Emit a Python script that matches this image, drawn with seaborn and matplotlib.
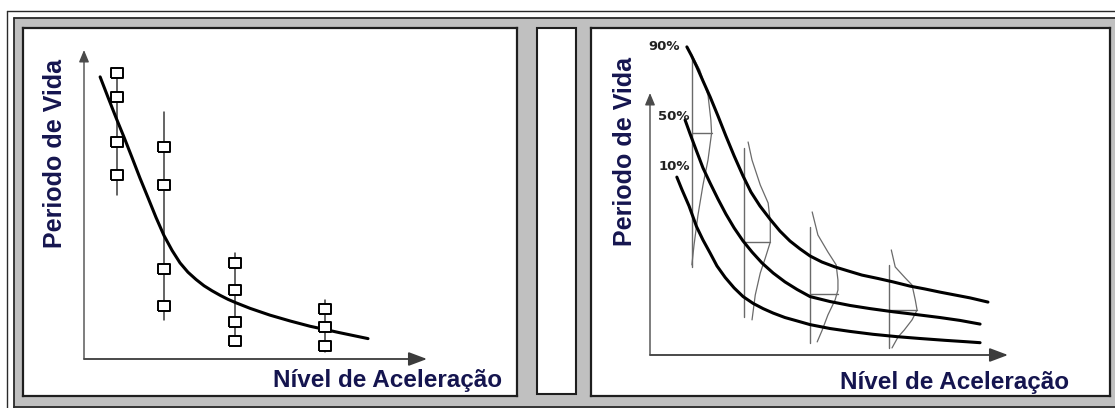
import matplotlib
matplotlib.use("Agg")
import matplotlib.pyplot as plt
from matplotlib.patches import Rectangle
from matplotlib.lines import Line2D
import pandas as pd
import seaborn as sns

# ---------------- data ----------------
# Left panel: observed lives at four acceleration levels and the fitted life curve
stress_levels = [0.95, 2.33, 4.40, 7.03]
life_obs = [
    [92.7, 84.8, 70.3, 59.5],
    [68.6, 56.3, 29.1, 17.2],
    [31.1, 22.3, 12.1, 5.8],
    [16.2, 10.4, 4.2],
]
life_range_low = [53.1, 12.6, 4.5, 2.3]
life_range_high = [94.2, 80.0, 34.3, 19.1]

fit_stress = [0.47, 0.70, 0.93, 1.17, 1.40, 1.63, 1.87, 2.10, 2.33, 2.57, 2.80, 3.03,
              3.27, 3.50, 3.73, 3.97, 4.20, 4.43, 4.84, 5.42, 6.01, 6.59, 7.46, 8.28]
fit_life = [91.3, 84.7, 78.2, 71.7, 65.2, 58.6, 52.1, 45.8, 40.0, 35.1, 31.1, 28.1,
            25.7, 23.7, 22.1, 20.6, 19.3, 18.2, 16.4, 14.2, 12.3, 10.6, 8.5, 6.6]

# Right panel: percentile life curves
p90_stress = [1.03, 1.15, 1.31, 1.48, 1.68, 1.90, 2.12, 2.35, 2.60, 2.82, 3.07, 3.35, 3.63,
              3.91, 4.19, 4.47, 4.80, 5.17, 5.53, 5.92, 6.37, 6.79, 7.26, 7.68, 8.10, 8.52,
              8.94, 9.44]
p90_life = [117.6, 114.5, 109.9, 104.6, 98.5, 91.2, 83.6, 76.0, 68.3, 62.2, 56.9, 51.9, 47.3,
            43.5, 40.5, 37.8, 35.5, 33.6, 32.1, 30.5, 29.2, 27.9, 26.3, 25.2, 24.0, 22.9,
            21.8, 20.2]
p50_stress = [0.98, 1.12, 1.29, 1.48, 1.68, 1.90, 2.12, 2.35, 2.60, 2.85, 3.13, 3.44, 3.77,
              4.11, 4.47, 5.03, 5.59, 6.15, 6.79, 7.40, 8.10, 8.66, 9.22]
p50_life = [89.7, 84.4, 78.2, 71.4, 65.6, 59.5, 53.8, 48.5, 43.5, 39.3, 35.1, 31.3, 27.9,
            25.0, 22.3, 20.4, 18.9, 17.7, 16.5, 15.5, 14.3, 13.2, 11.8]
p10_stress = [0.75, 0.89, 1.09, 1.30, 1.48, 1.68, 1.87, 2.10, 2.35, 2.60, 2.88, 3.16, 3.44,
              3.77, 4.11, 4.47, 5.03, 5.59, 6.23, 6.90, 7.54, 8.24, 8.80, 9.22]
p10_life = [67.9, 63.2, 56.9, 49.0, 43.9, 38.9, 34.0, 29.6, 25.6, 22.3, 19.7, 17.7, 16.0,
            14.3, 13.0, 11.6, 10.1, 9.0, 7.9, 7.0, 6.3, 5.6, 5.1, 4.7]
percent_labels = ["90%", "50%", "10%"]

# Right panel: life distributions at each test level
dist_levels = [1.17, 2.63, 4.47, 6.68]
dist_low = [33.6, 14.5, 4.6, 2.7]
dist_high = [113.7, 79.0, 48.9, 34.4]
dist_median = [84.6, 43.1, 23.3, 17.2]
dist_life = [
    [114.5, 108.8, 99.2, 89.7, 84.7, 74.4, 64.9, 53.4, 42.0, 34.4],
    [81.3, 74.4, 64.9, 58.0, 50.8, 43.1, 37.0, 31.3, 22.9, 13.4],
    [54.6, 45.8, 39.3, 34.4, 28.6, 24.8, 21.0, 15.3, 9.5, 5.0],
    [40.1, 33.6, 29.4, 26.7, 21.0, 17.2, 13.4, 9.5, 6.9, 2.7],
]
dist_density = [
    [0.0, 0.22, 0.45, 0.53, 0.55, 0.45, 0.31, 0.17, 0.06, 0.0],
    [0.11, 0.22, 0.45, 0.67, 0.73, 0.73, 0.59, 0.45, 0.31, 0.22],
    [0.06, 0.22, 0.50, 0.73, 0.78, 0.78, 0.70, 0.50, 0.34, 0.20],
    [0.06, 0.17, 0.45, 0.64, 0.73, 0.78, 0.64, 0.42, 0.25, 0.08],
]

x_label = "Nível de Aceleração"
y_label = "Periodo de Vida"

# ---------------- style ----------------
sns.set_theme(style="white")
plt.rcParams["font.family"] = ["Liberation Sans", "DejaVu Sans"]

W, H = 1115, 408
fig = plt.figure(figsize=(W / 100, H / 100), dpi=100)
fig.patch.set_facecolor("white")

# background frame drawn in pixel coordinates
bg = fig.add_axes([0, 0, 1, 1], zorder=0)
bg.set_xlim(0, W)
bg.set_ylim(H, 0)
bg.axis("off")
bg.add_patch(Rectangle((13.5, 17.5), W, H, facecolor="#c0c0c0", edgecolor="none"))
frame_col = "#2a2a2a"
for xs, ys, lw in [
    ((6.5, W), (11, 11), 1.0),
    ((6.5, 6.5), (11, H), 1.0),
    ((13.5, W), (17.5, 17.5), 1.3),
    ((13.5, 13.5), (17.5, H), 1.3),
    ((13.5, W), (406.5, 406.5), 1.3),
]:
    bg.add_line(Line2D(xs, ys, color=frame_col, lw=lw))
# narrow empty box between the two panels
bg.add_patch(Rectangle((537, 28), 39, 366, facecolor="white", edgecolor="#1e1e1e", lw=1.5))

text_col = "#15154f"


def panel(box, origin, scale):
    """Axes occupying a pixel box, with data origin at a pixel and px-per-unit scale."""
    x0, y0, x1, y1 = box
    ox, oy = origin
    sx, sy = scale
    ax = fig.add_axes([x0 / W, 1 - y1 / H, (x1 - x0) / W, (y1 - y0) / H], zorder=1)
    ax.set_xlim((x0 - ox) / sx, (x1 - ox) / sx)
    ax.set_ylim((oy - y1) / sy, (oy - y0) / sy)
    ax.set_facecolor("white")
    ax.set_xticks([])
    ax.set_yticks([])
    for s in ax.spines.values():
        s.set_visible(True)
        s.set_color("#1e1e1e")
        s.set_linewidth(1.6)
    return ax


def axis_arrows(ax):
    ax.annotate("", xy=(10, 0), xytext=(0, 0),
                arrowprops=dict(arrowstyle="-|>,head_length=0.8,head_width=0.3", color="#3c3c3c",
                                lw=1.3, shrinkA=0, shrinkB=0, mutation_scale=14))
    ax.annotate("", xy=(0, 100), xytext=(0, 0),
                arrowprops=dict(arrowstyle="-|>,head_length=0.6,head_width=0.25", color="#4a4a4a",
                                lw=1.0, shrinkA=0, shrinkB=0, mutation_scale=12))


curve_kw = dict(color="black", lw=2.2, sort=False, estimator=None, zorder=3,
                solid_joinstyle="round", solid_capstyle="round")

# ---------------- left panel ----------------
axL = panel((23, 28, 517, 396), (84, 359), (34.3, 3.09))
axis_arrows(axL)

for x, lo, hi in zip(stress_levels, life_range_low, life_range_high):
    axL.plot([x, x], [lo, hi], color="#3a3a3a", lw=1.1, zorder=2)

sns.lineplot(x=fit_stress, y=fit_life, ax=axL, **curve_kw)

obs = pd.DataFrame(
    [(x, v) for x, vals in zip(stress_levels, life_obs) for v in vals],
    columns=["stress", "life"],
)
rect_marker = [(-1.2, -1.0), (1.2, -1.0), (1.2, 1.0), (-1.2, 1.0), (-1.2, -1.0)]
sns.scatterplot(data=obs, x="stress", y="life", ax=axL, marker=rect_marker, s=85,
                facecolor="white", edgecolor="black", linewidth=1.4, zorder=4, legend=False)
axL.set_xlabel("")
axL.set_ylabel("")

# ---------------- right panel ----------------
axR = panel((591, 28, 1110, 396), (650, 355), (35.8, 2.62))
axis_arrows(axR)

thin = "#6a6a6a"
for x, lo, hi, med, lv, dv in zip(dist_levels, dist_low, dist_high, dist_median,
                                 dist_life, dist_density):
    axR.plot([x, x], [lo, hi], color=thin, lw=1.0, zorder=2)
    sns.lineplot(x=[x + d for d in dv], y=lv, ax=axR, color=thin, lw=0.9, sort=False,
                 estimator=None, zorder=2)
    # median tick reaching the density outline
    idx = min(range(len(lv)), key=lambda i: abs(lv[i] - med))
    axR.plot([x, x + dv[idx]], [med, med], color=thin, lw=1.0, zorder=2)

for xs, ys in [(p90_stress, p90_life), (p50_stress, p50_life), (p10_stress, p10_life)]:
    sns.lineplot(x=xs, y=ys, ax=axR, **curve_kw)
axR.set_xlabel("")
axR.set_ylabel("")

# ---------------- titles and curve labels (pixel placement, on top) ----------------
top = fig.add_axes([0, 0, 1, 1], zorder=5)
top.set_xlim(0, W)
top.set_ylim(H, 0)
top.axis("off")
for tx, ty in [(273, 380), (840, 383)]:
    top.text(tx, ty, x_label, ha="left", va="center", fontsize=17.5, fontweight="bold",
             color=text_col)
for tx, ty in [(55, 154), (625, 151)]:
    top.text(tx, ty, y_label, ha="center", va="center", rotation=90, fontsize=18,
             fontweight="bold", color=text_col)
for lab, (px, py) in zip(percent_labels, [(664.5, 46), (673.5, 117), (674, 167)]):
    top.text(px, py, lab, ha="center", va="center", fontsize=9.5, fontweight="bold",
             family=["DejaVu Sans"], color="#222222")

fig.savefig("out.png", dpi=100, facecolor="white")
